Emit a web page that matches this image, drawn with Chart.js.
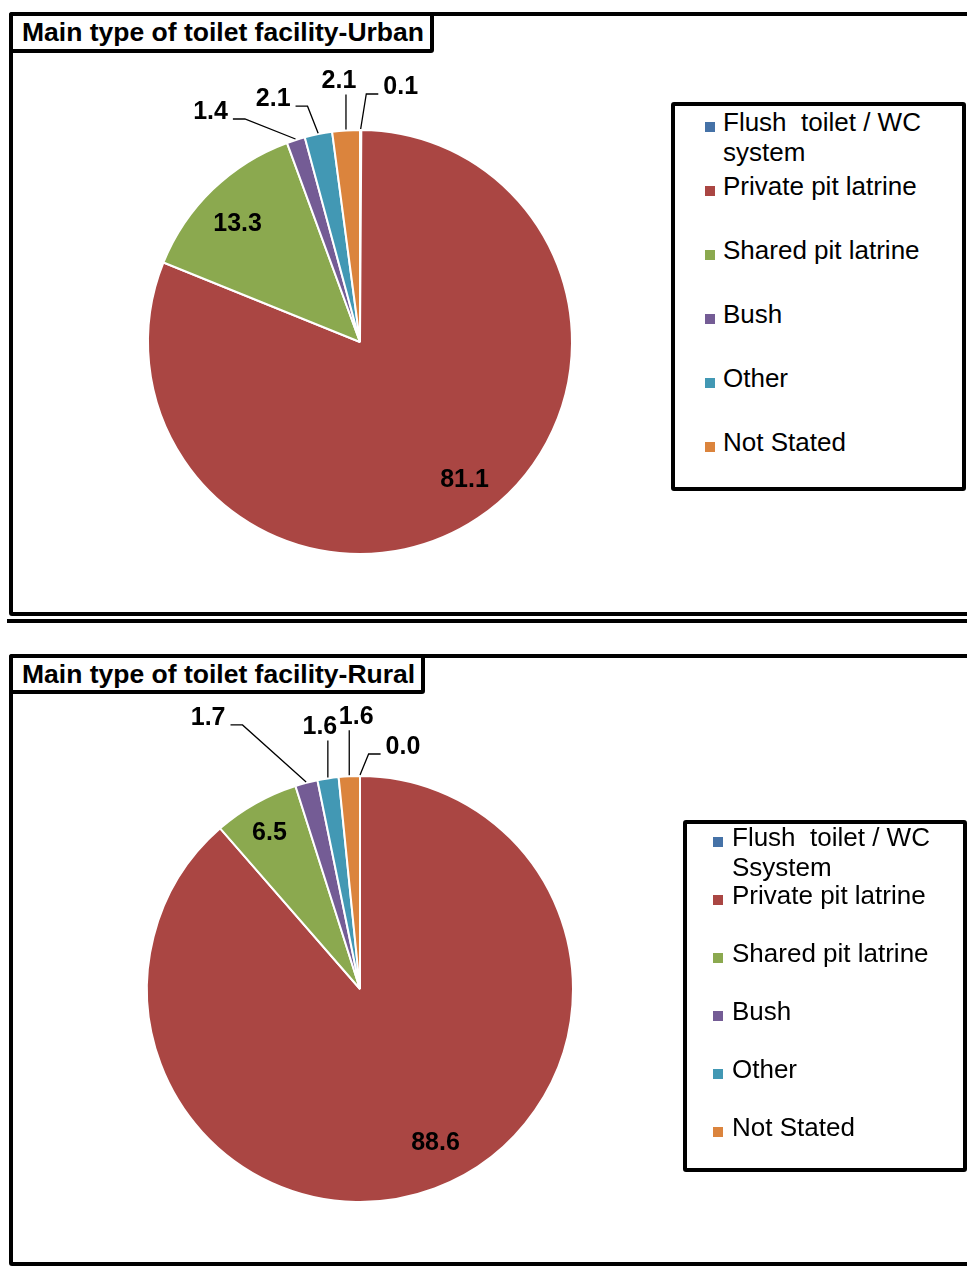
<!DOCTYPE html>
<html lang="en">
<head>
    <meta charset="UTF-8">
    <title>Main type of toilet facility</title>
    <script src="https://cdn.jsdelivr.net/npm/chart.js@4.4.0/dist/chart.umd.min.js"></script>
    <style>
        body {
            margin: 0;
            width: 967px;
            height: 1266px;
            overflow: hidden;
            position: relative;
            background: #fff;
            font-family: "Liberation Sans", Arial, sans-serif;
        }
        .frame { position: absolute; border: 4px solid #000; box-sizing: border-box; border-radius: 3px; }
        .rule { position: absolute; background: #000; }
        .title {
            position: absolute;
            border: 4px solid #000;
            background: #fff;
            font-weight: bold;
            font-size: 26.5px;
            line-height: 33px;
            padding: 0 6px 0 9px;
            border-radius: 3px;
            white-space: nowrap;
        }
        .legend { position: absolute; border: 4px solid #000; box-sizing: border-box; background: #fff; border-radius: 3px; }
        .legend-item { position: absolute; font-size: 26px; line-height: 30px; white-space: pre-wrap; color: #000; }
        .swatch { position: absolute; width: 10px; height: 10px; }
        canvas { position: absolute; left: 0; }
    </style>
</head>
<body>
<div class="frame" style="left: 9px; top: 12px; width: 1000px; height: 604px"></div>
<div class="rule" style="left: 7px; top: 619px; width: 970px; height: 4px"></div>
<div class="frame" style="left: 9px; top: 654px; width: 1000px; height: 612px"></div>

<canvas id="urban" width="967" height="640" style="top: 0; width: 967px; height: 640px"></canvas>
<canvas id="rural" width="967" height="626" style="top: 640px; width: 967px; height: 626px"></canvas>

<div class="title" style="left: 9px; top: 12px">Main type of toilet facility-Urban</div>
<div class="title" style="left: 9px; top: 654px; line-height: 32px">Main type of toilet facility-Rural</div>

<div class="legend" id="urbanLegend" style="left: 671px; top: 102px; width: 295px; height: 389px"></div>
<div class="legend" id="ruralLegend" style="left: 683px; top: 820px; width: 284px; height: 352px"></div>

<script>
    // categories as written in each legend
    const urbanLabels = ['Flush  toilet / WC system', 'Private pit latrine', 'Shared pit latrine', 'Bush', 'Other', 'Not Stated']
    const ruralLabels = ['Flush  toilet / WC Ssystem', 'Private pit latrine', 'Shared pit latrine', 'Bush', 'Other', 'Not Stated']

    // percent of households
    const urbanValues = [0.1, 81.1, 13.3, 1.4, 2.1, 2.1]
    const ruralValues = [0.0, 88.6, 6.5, 1.7, 1.6, 1.6]

    const colors = ['#4572A7', '#AA4643', '#8BA94F', '#745C95', '#4298B4', '#DB843D']

    // label placement: big slices inside (small nudge), small slices outside with a leader line
    const urbanLabelPos = [
        {dx: 40, dy: -42, side: 'right'},
        {dx: 9, dy: -5, side: 'inside'},
        {dx: -3, dy: 6, side: 'inside'},
        {dx: -85, dy: -27, side: 'left'},
        {dx: -45, dy: -34, side: 'left'},
        {dx: -7, dy: -48, side: 'below'}
    ]
    const ruralLabelPos = [
        {dx: 43, dy: -28, side: 'right'},
        {dx: 15, dy: -7, side: 'inside'},
        {dx: -6, dy: -5, side: 'inside'},
        {dx: -98, dy: -64, side: 'left'},
        {dx: -8, dy: -50, side: 'below'},
        {dx: 7, dy: -58, side: 'below'}
    ]

    function labelPlugin(positions) {
        return {
            id: 'pieLabels',
            afterDatasetsDraw(chart) {
                const ctx = chart.ctx
                const meta = chart.getDatasetMeta(0)
                const values = chart.data.datasets[0].data
                ctx.save()
                ctx.font = 'bold 25px "Liberation Sans", Arial, sans-serif'
                ctx.fillStyle = '#000'
                ctx.strokeStyle = '#000'
                ctx.lineWidth = 1.3
                ctx.textAlign = 'center'
                ctx.textBaseline = 'middle'
                meta.data.forEach((arc, i) => {
                    const p = arc.getProps(['x', 'y', 'startAngle', 'endAngle', 'outerRadius'], true)
                    const mid = (p.startAngle + p.endAngle) / 2
                    const text = values[i].toFixed(1)
                    const pos = positions[i]
                    if (pos.side === 'inside') {
                        const r = p.outerRadius * 0.81
                        ctx.fillText(text, p.x + Math.cos(mid) * r + pos.dx, p.y + Math.sin(mid) * r + pos.dy)
                        return
                    }
                    const ax = p.x + Math.cos(mid) * (p.outerRadius + 1)
                    const ay = p.y + Math.sin(mid) * (p.outerRadius + 1)
                    const lx = ax + pos.dx
                    const ly = ay + pos.dy
                    const half = ctx.measureText(text).width / 2
                    ctx.beginPath()
                    ctx.moveTo(ax, ay)
                    if (pos.side === 'below') {
                        ctx.lineTo(ax, ly + 13)
                    } else {
                        const s = pos.side === 'left' ? 1 : -1
                        const ex = lx + s * (half + 5)
                        ctx.lineTo(ex + s * 12, ly + 7)
                        ctx.lineTo(ex, ly + 7)
                    }
                    ctx.stroke()
                    ctx.fillText(text, lx, ly)
                })
                ctx.restore()
            }
        }
    }

    function makePie(id, labels, values, positions, padding) {
        new Chart(document.getElementById(id), {
            type: 'pie',
            data: {
                labels: labels,
                datasets: [{
                    data: values,
                    backgroundColor: colors,
                    borderColor: '#fff',
                    borderWidth: 2
                }]
            },
            options: {
                responsive: false,
                animation: false,
                layout: {padding: padding},
                plugins: {
                    legend: {display: false},
                    tooltip: {enabled: false}
                }
            },
            plugins: [labelPlugin(positions)]
        })
    }

    function makeLegend(id, labels, box, firstY, step, swatchX, textX) {
        const el = document.getElementById(id)
        labels.forEach((label, i) => {
            const cy = firstY + i * step - box.top
            el.innerHTML += `
                <div class="swatch" style="left:${swatchX - box.left - 4}px; top:${cy - 4}px; background:${colors[i]}"></div>
                <div class="legend-item" style="left:${textX - box.left - 4}px; top:${cy - 19}px; width:${box.right - textX - 4}px">${label}</div>
            `
        })
    }

    makePie('urban', urbanLabels, urbanValues, urbanLabelPos, {left: 147, top: 129, right: 394, bottom: 85})
    makePie('rural', ruralLabels, ruralValues, ruralLabelPos, {left: 146, top: 135, right: 393, bottom: 63})

    makeLegend('urbanLegend', urbanLabels, {left: 671, top: 102, right: 966}, 122, 64, 705, 723)
    makeLegend('ruralLegend', ruralLabels, {left: 683, top: 820, right: 967}, 837, 58, 713, 732)
</script>
</body>
</html>
